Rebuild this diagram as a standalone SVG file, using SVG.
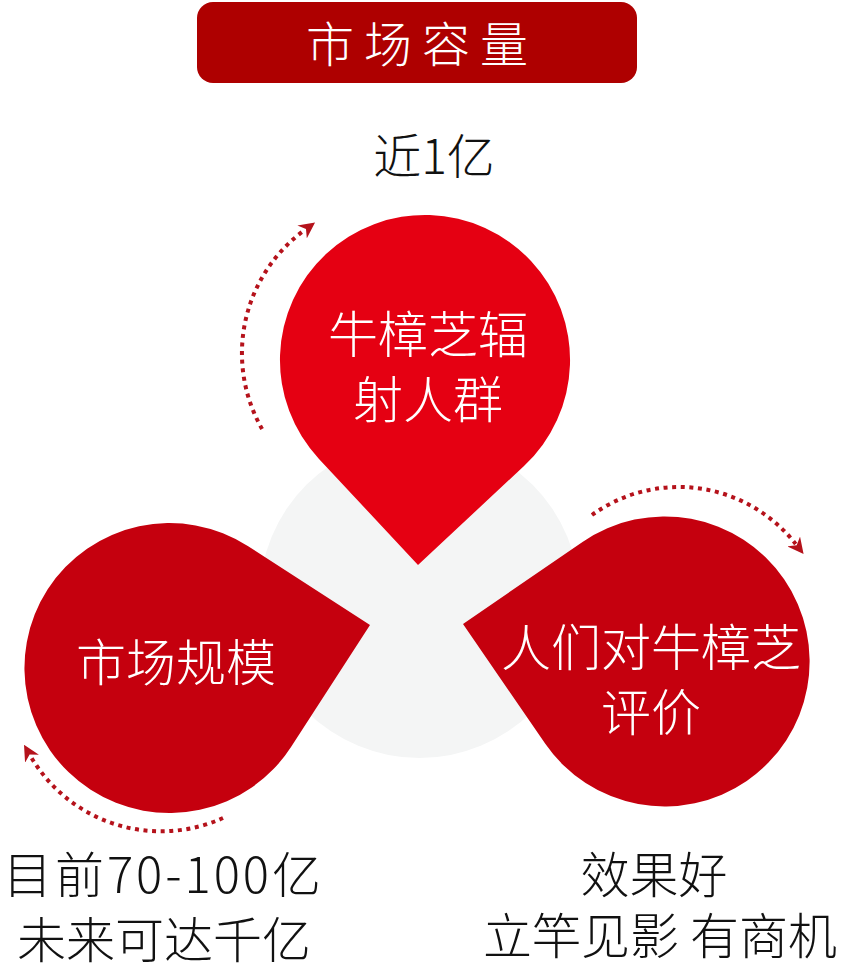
<svg xmlns="http://www.w3.org/2000/svg" width="842" height="965" viewBox="0 0 842 965">
<style>
.t{font-family:"Noto Sans CJK SC","Noto Sans",sans-serif;text-anchor:middle;font-weight:300}
.w{fill:#ffffff}
.k{fill:#111111}
.dot{fill:none;stroke:#B5121B;stroke-width:4;stroke-dasharray:4 4.6}
</style>
<defs>
<marker id="ah" markerUnits="userSpaceOnUse" markerWidth="16" markerHeight="16" viewBox="0 0 10 10" refX="2" refY="5" orient="auto">
<path d="M0,0 L10,5 L0,10 L3,5 Z" fill="#B5121B"/>
</marker>
</defs>
<rect width="842" height="965" fill="#ffffff"/>
<g id="title">
<rect x="197" y="2" width="440" height="81" rx="16" fill="#AE0000"/>
<text class="t w" x="422" y="62" font-size="48" letter-spacing="10">市场容量</text>
</g>
<circle id="bg-circle" cx="419.5" cy="598" r="160" fill="#F4F5F5"/>
<g id="connectors">
<path class="dot" d="M262.1 429 A152.4 152.4 0 0 1 304.7 230" marker-end="url(#ah)"/>
<path class="dot" d="M592 515 A148.4 148.4 0 0 1 795.7 544" marker-end="url(#ah)"/>
<path class="dot" d="M223 818 A150.8 150.8 0 0 1 30.4 755.9" marker-end="url(#ah)"/>
</g>
<g id="node-top">
<path d="M418 565 L319 458.9 A145 145 0 1 1 524 466 Z" fill="#E50012"/>
<text class="t w" x="428" y="353" font-size="50">牛樟芝辐</text>
<text class="t w" x="428" y="418" font-size="50">射人群</text>
</g>
<g id="node-left">
<path d="M370 625 L291.2 746.8 A145 145 0 1 1 248.2 546.3 Z" fill="#C5000E"/>
<text class="t w" x="176" y="681" font-size="50">市场规模</text>
</g>
<g id="node-right">
<path d="M463 624 L582.5 541.9 A145 145 0 1 1 545.1 743.5 Z" fill="#C5000E"/>
<text class="t w" x="651" y="666" font-size="50">人们对牛樟芝</text>
<text class="t w" x="651" y="731" font-size="50">评价</text>
</g>
<g id="label-top">
<text class="t k" x="434" y="174" font-size="48">近1亿</text>
</g>
<g id="label-left">
<text class="t k" x="162" y="893" font-size="49" textLength="318" lengthAdjust="spacing">目前70-100亿</text>
<text class="t k" x="164" y="958" font-size="49">未来可达千亿</text>
</g>
<g id="label-right">
<text class="t k" x="654" y="893" font-size="49">效果好</text>
<text class="t k" x="660" y="954" font-size="49">立竿见影 有商机</text>
</g>
</svg>
